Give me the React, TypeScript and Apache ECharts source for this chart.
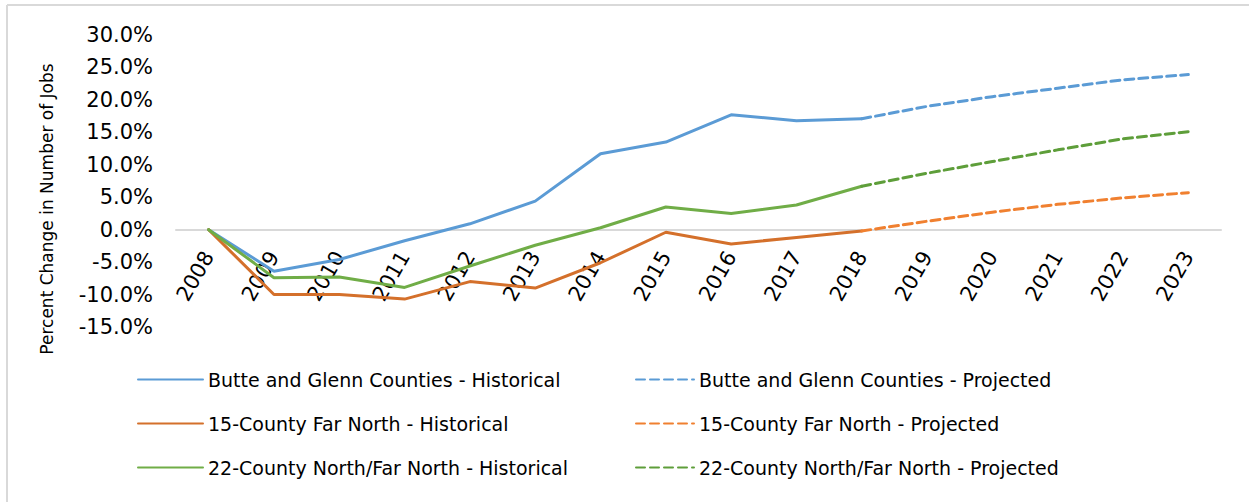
import React, { useEffect, useRef } from "react";
import * as echarts from "echarts";

const years = ["2008","2009","2010","2011","2012","2013","2014","2015","2016","2017","2018","2019","2020","2021","2022","2023"];

const butteHist = [0, -6.4, -4.6, -1.7, 0.9, 4.4, 11.7, 13.5, 17.7, 16.8, 17.1, null, null, null, null, null];
const butteProj = [null, null, null, null, null, null, null, null, null, null, 17.1, 19.0, 20.5, 21.8, 23.1, 23.9];
const farNorthHist = [0, -10.0, -10.0, -10.7, -8.0, -9.0, -5.1, -0.4, -2.2, -1.2, -0.2, null, null, null, null, null];
const farNorthProj = [null, null, null, null, null, null, null, null, null, null, -0.2, 1.3, 2.7, 3.9, 4.9, 5.7];
const northHist = [0, -7.4, -7.3, -8.9, -5.6, -2.4, 0.3, 3.5, 2.5, 3.8, 6.7, null, null, null, null, null];
const northProj = [null, null, null, null, null, null, null, null, null, null, 6.7, 8.7, 10.5, 12.3, 14.0, 15.1];

const names = [
  "Butte and Glenn Counties - Historical",
  "Butte and Glenn Counties - Projected",
  "15-County Far North - Historical",
  "15-County Far North - Projected",
  "22-County North/Far North - Historical",
  "22-County North/Far North - Projected",
];

const FONT = "DejaVu Sans";

export default function App() {
  const ref = useRef<HTMLDivElement>(null);
  useEffect(() => {
    if (!ref.current) return;
    const chart = echarts.init(ref.current, undefined, { renderer: "svg" });
    const mk = (name: string, data: (number | null)[], color: string, dashed: boolean) => ({
      name,
      type: "line",
      data,
      symbol: "none",
      connectNulls: false,
      lineStyle: { color, width: 3, type: dashed ? [9, 5] : "solid", cap: "round" },
      itemStyle: { color },
    });
    const legendBase = {
      orient: "vertical",
      top: 370,
      padding: 0,
      itemHeight: 14,
      itemGap: 25,
      itemStyle: { opacity: 0 },
      textStyle: { fontSize: 19, color: "#000", fontFamily: FONT },
    };
    chart.setOption({
      animation: false,
      backgroundColor: "#ffffff",
      textStyle: { fontFamily: FONT },
      grid: { left: 176, right: 28, top: 35, bottom: 175, containLabel: false },
      xAxis: {
        type: "category",
        data: years,
        boundaryGap: true,
        axisLine: { onZero: true, lineStyle: { color: "#D9D9D9", width: 2 } },
        axisTick: { show: false },
        axisLabel: { rotate: 60, color: "#000", fontSize: 21, fontFamily: FONT, margin: -74, interval: 0 },
        splitLine: { show: false },
      },
      yAxis: {
        type: "value",
        min: -15,
        max: 30,
        interval: 5,
        axisLine: { show: false },
        axisTick: { show: false },
        splitLine: { show: false },
        axisLabel: {
          color: "#000",
          fontSize: 21,
          fontFamily: FONT,
          margin: 23,
          formatter: (v: number) => v.toFixed(1) + "%",
        },
      },
      legend: [
        { ...legendBase, left: 137, itemWidth: 65, data: [names[0], names[2], names[4]] },
        { ...legendBase, left: 635, itemWidth: 58, data: [names[1], names[3], names[5]] },
      ],
      graphic: [
        { type: "line", shape: { x1: 7, y1: 5, x2: 1249, y2: 5 }, style: { stroke: "#D9D9D9", lineWidth: 2 } },
        { type: "line", shape: { x1: 7, y1: 5, x2: 7, y2: 502 }, style: { stroke: "#D9D9D9", lineWidth: 2 } },
        {
          type: "text",
          x: 47,
          y: 209,
          rotation: Math.PI / 2,
          style: {
            text: "Percent Change in Number of Jobs",
            fontSize: 17,
            fontFamily: FONT,
            fill: "#000",
            align: "center",
            verticalAlign: "middle",
          },
        },
      ],
      series: [
        mk(names[0], butteHist, "#5B9BD5", false),
        mk(names[1], butteProj, "#5B9BD5", true),
        mk(names[2], farNorthHist, "#D4702B", false),
        mk(names[3], farNorthProj, "#F08030", true),
        mk(names[4], northHist, "#70AD47", false),
        mk(names[5], northProj, "#5E9E3A", true),
      ],
    });
    return () => chart.dispose();
  }, []);
  return <div ref={ref} style={{ position: "absolute", left: 0, top: 0, width: 1249, height: 502 }} />;
}
